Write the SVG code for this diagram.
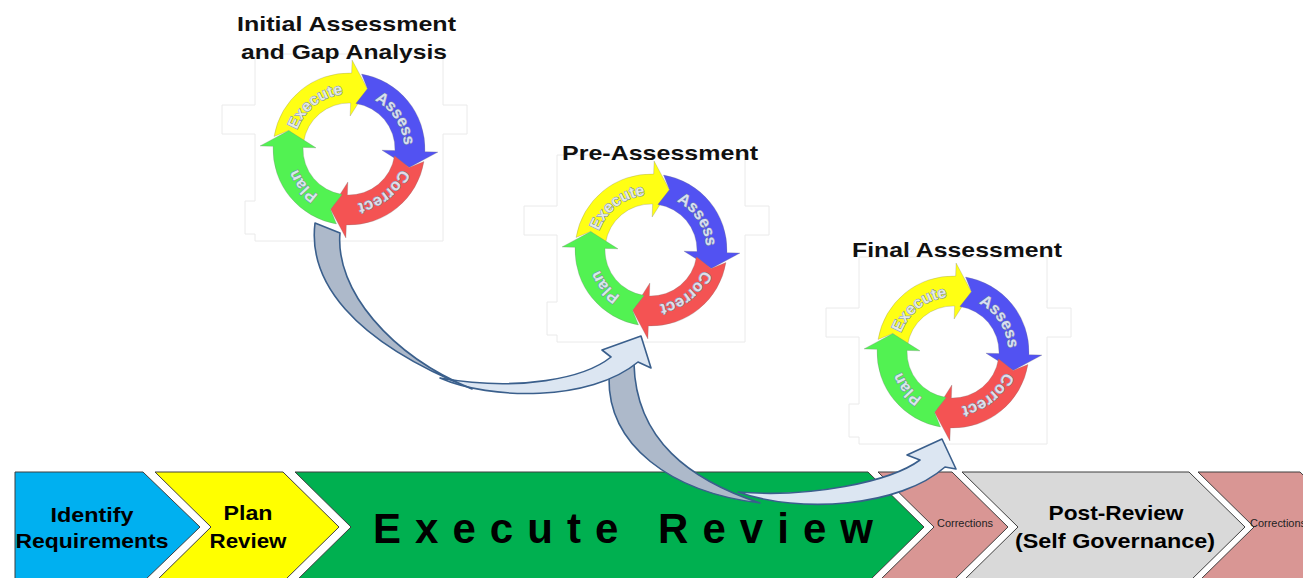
<svg xmlns="http://www.w3.org/2000/svg" xmlns:xlink="http://www.w3.org/1999/xlink" width="1303" height="578" viewBox="0 0 1303 578">
  <style>
    .title { font-family: "Liberation Sans", Arial, sans-serif; font-weight: bold; font-size: 21px; fill: #111; text-anchor: middle; }
    .ring-label { font-family: "Liberation Sans", Arial, sans-serif; font-weight: bold; font-size: 16px; fill: #e8eff9; fill-opacity: 0.88; stroke: #7b8ca6; stroke-width: 1; paint-order: stroke; text-anchor: middle; }
    .step { stroke: #3f3f3f; stroke-width: 1; }
    .step-label { font-family: "Liberation Sans", Arial, sans-serif; font-weight: bold; font-size: 21px; fill: #000; text-anchor: middle; }
    .small-label { font-family: "Liberation Sans", Arial, sans-serif; font-size: 10.5px; fill: #222; }
    .frame { fill: none; stroke: #eaeaea; stroke-width: 1; }
    .ring-arrow { stroke: #7a7a7a; stroke-opacity: 0.35; stroke-width: 0.8; }
    .flow-back { fill: #adb9ca; stroke: #3a5f8c; stroke-width: 1.6; stroke-linejoin: round; }
    .flow-front { fill: #dce6f2; stroke: #3a5f8c; stroke-width: 1.6; stroke-linejoin: round; }
  </style>
  <defs>
    <!-- one quarter of the cycle ring: notched tail, curved body, head pointing clockwise -->
    <path id="ringArrow" d="M -74.96,-12.54 A 76 76 0 0 1 2.65,-75.95 L 3.11,-88.95 L 18.42,-60.25 L 1.15,-32.98 L 1.61,-45.97 A 46 46 0 0 0 -45.49,-6.80 L -60.25,-18.42 Z"/>
    <!-- clockwise baseline circle for the ring labels, starting at the bottom -->
    <path id="ringPath" d="M 0,55.2 A 55.2 55.2 0 1 1 0,-55.2 A 55.2 55.2 0 1 1 0,55.2"/>
    <!-- faint outline of the cycle picture's backdrop -->
    <path id="frameShape" d="M -94,-95 V -44 H -127 V -15 H -94 V 52 H -104 V 85 H -94 V 92 H 94 V -15 H 118 V -44 H 94 V -95 Z"/>
    <g id="ring">
      <use xlink:href="#ringArrow" class="ring-arrow" fill="#ffff14"/>
      <use xlink:href="#ringArrow" class="ring-arrow" fill="#5252f2" transform="rotate(90)"/>
      <use xlink:href="#ringArrow" class="ring-arrow" fill="#f45353" transform="rotate(180)"/>
      <use xlink:href="#ringArrow" class="ring-arrow" fill="#52f252" transform="rotate(270)"/>
    </g>
  </defs>

  <rect width="1303" height="578" fill="#ffffff"/>

  <!-- process band along the bottom -->
  <g id="step-identify">
    <path class="step" fill="#00b0f0" d="M 15,472 H 143 L 200,527 L 143,582 H 15 Z"/>
    <text class="step-label" x="92" y="522" textLength="83" lengthAdjust="spacingAndGlyphs">Identify</text>
    <text class="step-label" x="92" y="548" textLength="153" lengthAdjust="spacingAndGlyphs">Requirements</text>
  </g>
  <g id="step-plan">
    <path class="step" fill="#ffff00" d="M 155,472 H 283 L 339,527 L 283,582 H 155 L 211,527 Z"/>
    <text class="step-label" x="248" y="520" textLength="49" lengthAdjust="spacingAndGlyphs">Plan</text>
    <text class="step-label" x="248" y="548" textLength="77" lengthAdjust="spacingAndGlyphs">Review</text>
  </g>
  <g id="step-execute">
    <path class="step" fill="#00b050" d="M 295,472 H 868 L 924,527 L 868,582 H 295 L 351,527 Z"/>
    <text class="step-label" x="623" y="543" style="font-size:42px" textLength="500" lengthAdjust="spacing">Execute Review</text>
  </g>
  <g id="step-corrections-1">
    <path class="step" fill="#d99694" d="M 878,472 H 952 L 1008,527 L 952,582 H 878 L 934,527 Z"/>
    <text class="small-label" x="937" y="527" textLength="56" lengthAdjust="spacingAndGlyphs">Corrections</text>
  </g>
  <g id="step-post-review">
    <path class="step" fill="#d9d9d9" d="M 962,472 H 1189 L 1245,527 L 1189,582 H 962 L 1018,527 Z"/>
    <text class="step-label" x="1116" y="520" textLength="135" lengthAdjust="spacingAndGlyphs">Post-Review</text>
    <text class="step-label" x="1115" y="548" textLength="200" lengthAdjust="spacingAndGlyphs">(Self Governance)</text>
  </g>
  <g id="step-corrections-2">
    <path class="step" fill="#d99694" d="M 1198,472 H 1300 L 1356,527 L 1300,582 H 1198 L 1254,527 Z"/>
    <text class="small-label" x="1250" y="527" textLength="56" lengthAdjust="spacingAndGlyphs">Corrections</text>
  </g>

  <!-- backdrops of the three cycle pictures -->
  <use xlink:href="#frameShape" class="frame" transform="translate(349,149)"/>
  <use xlink:href="#frameShape" class="frame" transform="translate(651,250)"/>
  <use xlink:href="#frameShape" class="frame" transform="translate(953,352)"/>

  <!-- curved flow arrows between the assessments -->
  <g id="connectors">
    <g id="flow-pre-to-final">
      <path class="flow-front" d="M 738,492 C 800,514 900,507 945,467 L 956,469 L 942,439 L 907,455 L 920,460 C 890,482 810,498 738,492 Z"/>
      <path class="flow-back" d="M 634,364 L 609,378 C 608,445 670,492 760,503 C 690,480 636,440 634,364 Z"/>
    </g>
    <g id="flow-initial-to-pre">
      <path class="flow-front" d="M 440,378 C 490,400 590,402 638,362 L 651,368 L 641,336 L 602,350 L 611,357 C 585,378 520,392 440,378 Z"/>
      <path class="flow-back" d="M 340,233 L 315,223 C 308,280 350,340 472,389 C 390,355 335,290 340,233 Z"/>
    </g>
  </g>

  <!-- assessment cycles -->
  <g id="cycle-initial" transform="translate(349,149)">
    <use xlink:href="#ring"/>
    <text class="ring-label"><textPath xlink:href="#ringPath" startOffset="39.4%">Execute</textPath></text>
    <text class="ring-label"><textPath xlink:href="#ringPath" startOffset="65.8%">Assess</textPath></text>
    <text class="ring-label"><textPath xlink:href="#ringPath" startOffset="89.2%">Correct</textPath></text>
    <text class="ring-label"><textPath xlink:href="#ringPath" startOffset="14.2%">Plan</textPath></text>
    <text class="title" x="-2.5" y="-118" textLength="219" lengthAdjust="spacingAndGlyphs">Initial Assessment</text>
    <text class="title" x="-5" y="-90" textLength="206" lengthAdjust="spacingAndGlyphs">and Gap Analysis</text>
  </g>
  <g id="cycle-pre" transform="translate(651,250)">
    <use xlink:href="#ring"/>
    <text class="ring-label"><textPath xlink:href="#ringPath" startOffset="39.4%">Execute</textPath></text>
    <text class="ring-label"><textPath xlink:href="#ringPath" startOffset="65.8%">Assess</textPath></text>
    <text class="ring-label"><textPath xlink:href="#ringPath" startOffset="89.2%">Correct</textPath></text>
    <text class="ring-label"><textPath xlink:href="#ringPath" startOffset="14.2%">Plan</textPath></text>
    <text class="title" x="9" y="-90" textLength="196" lengthAdjust="spacingAndGlyphs">Pre-Assessment</text>
  </g>
  <g id="cycle-final" transform="translate(953,352)">
    <use xlink:href="#ring"/>
    <text class="ring-label"><textPath xlink:href="#ringPath" startOffset="39.4%">Execute</textPath></text>
    <text class="ring-label"><textPath xlink:href="#ringPath" startOffset="65.8%">Assess</textPath></text>
    <text class="ring-label"><textPath xlink:href="#ringPath" startOffset="89.2%">Correct</textPath></text>
    <text class="ring-label"><textPath xlink:href="#ringPath" startOffset="14.2%">Plan</textPath></text>
    <text class="title" x="4" y="-95" textLength="210" lengthAdjust="spacingAndGlyphs">Final Assessment</text>
  </g>
</svg>
